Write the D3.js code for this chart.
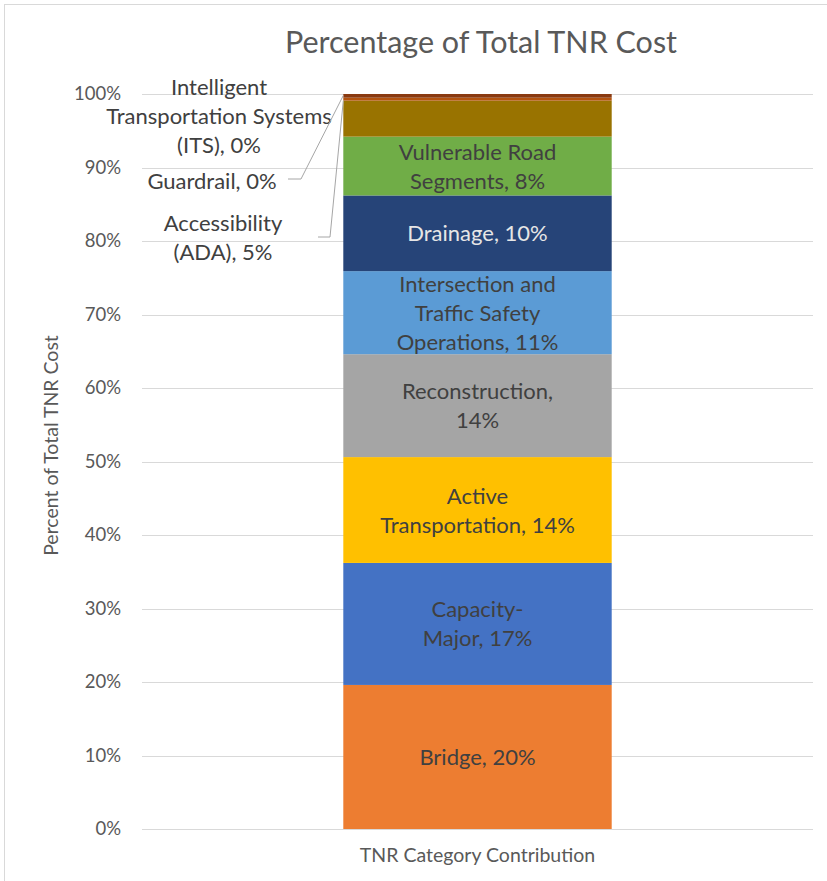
<!DOCTYPE html>
<html>
<head>
<meta charset="utf-8">
<script src="https://cdn.jsdelivr.net/npm/d3@7/dist/d3.min.js"></script>
<style>
  html, body { margin: 0; padding: 0; background: #fff; }
  svg { display: block; }
  text { font-family: Lato, "Open Sans", sans-serif; }
</style>
</head>
<body>
<svg id="chart" width="827" height="881"></svg>
<script>
// ---- data ----
const categoryName = "TNR Category Contribution";
const segments = ["Bridge", "Capacity-Major", "Active Transportation", "Reconstruction",
  "Intersection and Traffic Safety Operations", "Drainage", "Vulnerable Road Segments",
  "Accessibility (ADA)", "Guardrail", "Intelligent Transportation Systems (ITS)"];
const values = [19.6, 16.6, 14.4, 14.0, 11.3, 10.3, 8.0, 4.9, 0.4, 0.5];
const labelLines = [
  ["Bridge, 20%"],
  ["Capacity-", "Major, 17%"],
  ["Active", "Transportation, 14%"],
  ["Reconstruction,", "14%"],
  ["Intersection and", "Traffic Safety", "Operations, 11%"],
  ["Drainage, 10%"],
  ["Vulnerable Road", "Segments, 8%"],
  ["Accessibility", "(ADA), 5%"],
  ["Guardrail, 0%"],
  ["Intelligent", "Transportation Systems", "(ITS), 0%"]
];
const colors = ["#ED7D31", "#4472C4", "#FFC000", "#A5A5A5", "#5B9BD5", "#264478",
  "#70AD47", "#997300", "#B4530F", "#8A3A10"];
const tickValues = [0, 10, 20, 30, 40, 50, 60, 70, 80, 90, 100];
const chartTitle = "Percentage of Total TNR Cost";
const yTitle = "Percent of Total TNR Cost";

// ---- layout ----
const svg = d3.select("#chart");
const W = 827, H = 881;
const plot = { left: 142, right: 813, top: 94, bottom: 829 };
const textCol = "#595959";
const labelSize = "22px";

svg.append("rect").attr("x", 4.5).attr("y", 4.5).attr("width", W + 10).attr("height", H + 10)
  .attr("fill", "#fff").attr("stroke", "#d9d9d9").attr("stroke-width", 1);

const y = d3.scaleLinear().domain([0, 100]).range([plot.bottom, plot.top]);
const x = d3.scaleBand().domain([categoryName]).range([plot.left, plot.right])
  .paddingInner(0.6).paddingOuter(0.3);

// gridlines
svg.append("g").selectAll("line").data(tickValues).join("line")
  .attr("x1", plot.left).attr("x2", plot.right)
  .attr("y1", d => Math.round(y(d)) + 0.5).attr("y2", d => Math.round(y(d)) + 0.5)
  .attr("stroke", "#d9d9d9").attr("stroke-width", 1);

// y axis
const yAxis = svg.append("g").attr("transform", `translate(${plot.left},0)`)
  .call(d3.axisLeft(y).tickValues(tickValues).tickFormat(d => d + "%").tickSize(0).tickPadding(21));
yAxis.select(".domain").remove();
yAxis.selectAll("text").attr("fill", textCol).style("font-size", "18.5px")
  .style("font-family", "Lato, sans-serif");

// x axis label
const xAxis = svg.append("g").attr("transform", `translate(0,${plot.bottom})`)
  .call(d3.axisBottom(x).tickSize(0).tickPadding(19));
xAxis.select(".domain").remove();
xAxis.selectAll("text").attr("fill", textCol).style("font-size", "19.5px")
  .style("font-family", "Lato, sans-serif");

// stacked data
let cum = 0;
const stacked = values.map((v, i) => {
  const d = { name: segments[i], v, y0: cum, y1: cum + v, lines: labelLines[i], color: colors[i] };
  cum += v;
  return d;
});

const bx = x(categoryName), bw = x.bandwidth();
svg.append("g").selectAll("rect").data(stacked).join("rect")
  .attr("x", bx).attr("width", bw)
  .attr("y", d => y(d.y1)).attr("height", d => y(d.y0) - y(d.y1))
  .attr("fill", d => d.color);

// inside labels
const lh = 29;
const inside = stacked.filter(d => d.v >= 6);
const lbl = svg.append("g").selectAll("text").data(inside).join("text")
  .attr("text-anchor", "middle")
  .attr("fill", d => d.name === "Drainage" ? "#e6e6e6" : "#404040")
  .style("font-size", labelSize);
lbl.each(function(d) {
  const cy = (y(d.y0) + y(d.y1)) / 2;
  const n = d.lines.length;
  d3.select(this).selectAll("tspan").data(d.lines).join("tspan")
    .attr("x", bx + bw / 2)
    .attr("y", (t, j) => cy + (j - (n - 1) / 2) * lh + 8)
    .text(t => t);
});

// outside labels with leader lines
const outside = [
  { idx: 9, cx: 219, cy: 116, leader: null },
  { idx: 8, cx: 212, cy: 181, leader: [[288, 179], [301, 179]] },
  { idx: 7, cx: 223, cy: 237, leader: [[318, 237], [330, 237]] }
];
outside.forEach(o => {
  const d = stacked[o.idx];
  const n = d.lines.length;
  const t = svg.append("text").attr("text-anchor", "middle").attr("fill", "#404040")
    .style("font-size", labelSize);
  t.selectAll("tspan").data(d.lines).join("tspan")
    .attr("x", o.cx).attr("y", (s, j) => o.cy + (j - (n - 1) / 2) * lh + 8).text(s => s);
  if (o.leader) {
    const target = [bx, y(o.idx === 7 ? d.y1 : d.y1 + 0.3)];
    const pts = [o.leader[0], o.leader[1], target];
    svg.append("path").attr("d", d3.line()(pts)).attr("fill", "none")
      .attr("stroke", "#a6a6a6").attr("stroke-width", 1);
  }
});

// titles
svg.append("text").attr("x", 481).attr("y", 53).attr("text-anchor", "middle")
  .attr("fill", textCol).style("font-size", "30.5px").text(chartTitle);
svg.append("text").attr("transform", `translate(58,${(plot.top + plot.bottom) / 2 - 16}) rotate(-90)`)
  .attr("text-anchor", "middle").attr("fill", textCol).style("font-size", "19.5px").text(yTitle);
</script>
</body>
</html>
